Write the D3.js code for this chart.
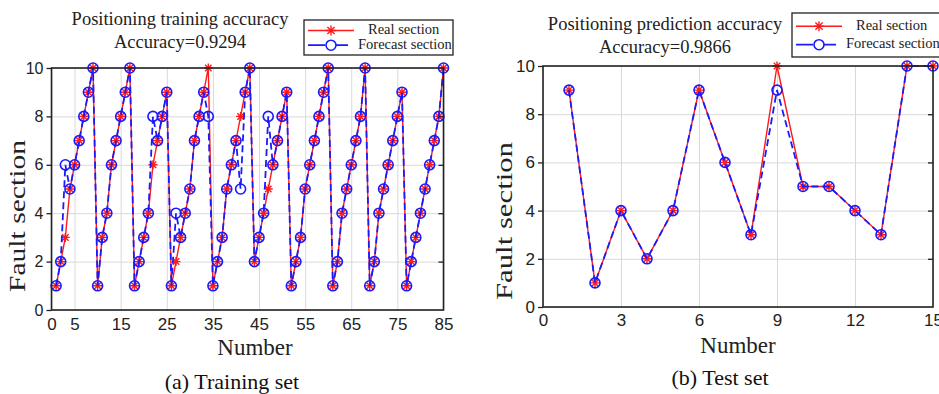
<!DOCTYPE html>
<html>
<head>
<meta charset="utf-8">
<script src="https://cdn.jsdelivr.net/npm/d3@7"></script>
<style>
  html, body { margin: 0; padding: 0; background: #fff; }
  svg { display: block; font-family: "Liberation Serif", "Times New Roman", serif; }
</style>
</head>
<body>
<div id="chart"></div>
<script>
// training set (85 samples)
const trainReal = [1, 2, 3, 5, 6, 7, 8, 9, 10, 1, 3, 4, 6, 7, 8, 9, 10, 1, 2, 3, 4, 6, 7, 8, 9,
  1, 2, 3, 4, 5, 7, 8, 9, 10, 1, 2, 3, 5, 6, 7, 8, 9, 10, 2, 3, 4, 5, 6, 7, 8, 9,
  1, 2, 3, 5, 6, 7, 8, 9, 10, 1, 2, 4, 5, 6, 7, 8, 10, 1, 2, 4, 5, 6, 7, 8, 9,
  1, 2, 3, 4, 5, 6, 7, 8, 10]
const trainForecast = [1, 2, 6, 5, 6, 7, 8, 9, 10, 1, 3, 4, 6, 7, 8, 9, 10, 1, 2, 3, 4, 8, 7, 8, 9,
  1, 4, 3, 4, 5, 7, 8, 9, 8, 1, 2, 3, 5, 6, 7, 5, 9, 10, 2, 3, 4, 8, 6, 7, 8, 9,
  1, 2, 3, 5, 6, 7, 8, 9, 10, 1, 2, 4, 5, 6, 7, 8, 10, 1, 2, 4, 5, 6, 7, 8, 9,
  1, 2, 3, 4, 5, 6, 7, 8, 10]
const trainTicks = [0, 5, 15, 25, 35, 45, 55, 65, 75, 85]

// test set (15 samples)
const testReal = [9, 1, 4, 2, 4, 9, 6, 3, 10, 5, 5, 4, 3, 10, 10]
const testForecast = [9, 1, 4, 2, 4, 9, 6, 3, 9, 5, 5, 4, 3, 10, 10]
const testTicks = [0, 3, 6, 9, 12, 15]

const yTicks = [0, 2, 4, 6, 8, 10]

const W = 939
const H = 394
const svg = d3.select('#chart').append('svg')
  .attr('width', W)
  .attr('height', H)

// matlab-ish '*' marker
function starPath (cx, cy, r) {
  const d = r * 0.72
  return `M${cx - r},${cy}L${cx + r},${cy}M${cx},${cy - r}L${cx},${cy + r}` +
    `M${cx - d},${cy - d}L${cx + d},${cy + d}M${cx - d},${cy + d}L${cx + d},${cy - d}`
}

function drawPanel (cfg) {
  const g = svg.append('g')
  const x = d3.scaleLinear().domain(cfg.xDomain).range(cfg.xRange)
  const y = d3.scaleLinear().domain([0, 10]).range(cfg.yRange)
  const [x0, x1] = cfg.xRange
  const [yb, yt] = cfg.yRange

  // grid
  g.append('g')
    .attr('transform', `translate(0,${yb})`)
    .call(d3.axisBottom(x).tickValues(cfg.xTicks).tickSize(-(yb - yt)).tickFormat(''))
    .call(a => a.select('.domain').remove())
    .selectAll('line').attr('stroke', '#d9d9d9').attr('stroke-width', 1)
  g.append('g')
    .attr('transform', `translate(${x0},0)`)
    .call(d3.axisLeft(y).tickValues(yTicks).tickSize(-(x1 - x0)).tickFormat(''))
    .call(a => a.select('.domain').remove())
    .selectAll('line').attr('stroke', '#d9d9d9').attr('stroke-width', 1)

  // real series
  const line = d3.line().x((d, i) => x(i + 1)).y(d => y(d))
  g.append('path')
    .datum(cfg.real)
    .attr('d', line)
    .attr('fill', 'none')
    .attr('stroke', '#ff1a1a')
    .attr('stroke-width', 1.4)
  g.append('g').selectAll('path')
    .data(cfg.real)
    .enter()
    .append('path')
    .attr('d', (d, i) => starPath(x(i + 1), y(d), 4.5))
    .attr('stroke', '#ff1a1a')
    .attr('stroke-width', 1.4)

  // forecast series
  g.append('path')
    .datum(cfg.forecast)
    .attr('d', line)
    .attr('fill', 'none')
    .attr('stroke', '#1a1aff')
    .attr('stroke-width', 1.8)
    .attr('stroke-dasharray', '7,4')
  g.append('g').selectAll('circle')
    .data(cfg.forecast)
    .enter()
    .append('circle')
    .attr('cx', (d, i) => x(i + 1))
    .attr('cy', d => y(d))
    .attr('r', 5)
    .attr('fill', 'none')
    .attr('stroke', '#1a1aff')
    .attr('stroke-width', 1.6)

  // axes
  const xAxis = g.append('g')
    .attr('transform', `translate(0,${yb})`)
    .call(d3.axisBottom(x).tickValues(cfg.xTicks).tickSize(0).tickPadding(cfg.xPad))
  xAxis.select('.domain').remove()
  xAxis.selectAll('text').attr('font-size', cfg.tickFont).attr('fill', '#222')

  const yAxis = g.append('g')
    .attr('transform', `translate(${x0},0)`)
    .call(d3.axisLeft(y).tickValues(yTicks).tickSize(5).tickPadding(3))
  yAxis.select('.domain').remove()
  yAxis.selectAll('line').attr('stroke', '#222').attr('stroke-width', 1.3)
  yAxis.selectAll('text').attr('font-size', cfg.yTickFont).attr('fill', '#222')

  // right side inner ticks
  g.append('g')
    .attr('transform', `translate(${x1},0)`)
    .call(d3.axisLeft(y).tickValues(yTicks.slice(1, 5)).tickSize(5).tickFormat(''))
    .call(a => a.select('.domain').remove())
    .selectAll('line').attr('stroke', '#222').attr('stroke-width', 1.3)

  // box
  g.append('rect')
    .attr('x', x0)
    .attr('y', yt)
    .attr('width', x1 - x0)
    .attr('height', yb - yt)
    .attr('fill', 'none')
    .attr('stroke', '#222')
    .attr('stroke-width', 1.6)

  // labels
  g.append('text')
    .attr('transform', `translate(${cfg.yLabel[0]},${cfg.yLabel[1]}) rotate(-90)`)
    .attr('text-anchor', 'middle')
    .attr('dominant-baseline', 'middle')
    .attr('font-size', 23)
    .attr('textLength', cfg.yLabelLen)
    .attr('lengthAdjust', 'spacingAndGlyphs')
    .attr('fill', '#222')
    .text('Fault section')
  g.append('text')
    .attr('x', cfg.xLabel[0])
    .attr('y', cfg.xLabel[1])
    .attr('text-anchor', 'middle')
    .attr('font-size', 23)
    .attr('fill', '#222')
    .text('Number')
  g.append('text')
    .attr('x', cfg.caption[0])
    .attr('y', cfg.caption[1])
    .attr('text-anchor', 'middle')
    .attr('font-size', 22)
    .attr('fill', '#111')
    .text(cfg.captionText)

  // titles
  g.append('text')
    .attr('x', cfg.title[0])
    .attr('y', cfg.title[1])
    .attr('text-anchor', 'middle')
    .attr('font-size', 18.5)
    .attr('fill', '#222')
    .text(cfg.titleText)
  g.append('text')
    .attr('x', cfg.title[0])
    .attr('y', cfg.title[1] + 23)
    .attr('text-anchor', 'middle')
    .attr('font-size', 18.5)
    .attr('fill', '#222')
    .text(cfg.accText)

  // legend
  const [lx, ly, lw, lh] = cfg.legend
  const lg = g.append('g')
  lg.append('rect')
    .attr('x', lx).attr('y', ly).attr('width', lw).attr('height', lh)
    .attr('fill', '#fff').attr('stroke', '#222').attr('stroke-width', 1.3)
  const r1 = ly + lh * 0.3
  const r2 = ly + lh * 0.72
  lg.append('line')
    .attr('x1', lx + 4).attr('x2', lx + 50).attr('y1', r1).attr('y2', r1)
    .attr('stroke', '#ff1a1a').attr('stroke-width', 1.4)
  lg.append('path')
    .attr('d', starPath(lx + 27, r1, 5))
    .attr('stroke', '#ff1a1a').attr('stroke-width', 1.4)
  lg.append('line')
    .attr('x1', lx + 4).attr('x2', lx + 50).attr('y1', r2).attr('y2', r2)
    .attr('stroke', '#1a1aff').attr('stroke-width', 1.8).attr('stroke-dasharray', '17,6')
  lg.append('circle')
    .attr('cx', lx + 27).attr('cy', r2).attr('r', 5)
    .attr('fill', '#fff').attr('stroke', '#1a1aff').attr('stroke-width', 1.6)
  lg.append('text')
    .attr('x', lx + 64).attr('y', r1).attr('dominant-baseline', 'middle')
    .attr('font-size', 14.5).attr('fill', '#222')
    .text('Real section')
  lg.append('text')
    .attr('x', lx + 54).attr('y', r2).attr('dominant-baseline', 'middle')
    .attr('font-size', 14.5).attr('fill', '#222')
    .text('Forecast section')
}

drawPanel({
  xDomain: [0, 85],
  xRange: [51.5, 443.5],
  yRange: [310, 68],
  xTicks: trainTicks,
  xPad: 8,
  tickFont: 17,
  yTickFont: 16,
  real: trainReal,
  forecast: trainForecast,
  yLabel: [20, 216],
  yLabelLen: 152,
  xLabel: [255, 355],
  caption: [232, 389],
  captionText: '(a) Training set',
  title: [180, 25],
  titleText: 'Positioning training accuracy',
  accText: 'Accuracy=0.9294',
  legend: [304, 20, 149, 35]
})

drawPanel({
  xDomain: [0, 15],
  xRange: [543, 933],
  yRange: [307, 66],
  xTicks: testTicks,
  xPad: 7,
  tickFont: 17,
  yTickFont: 17,
  real: testReal,
  forecast: testForecast,
  yLabel: [507, 221],
  yLabelLen: 158,
  xLabel: [738, 353],
  caption: [720, 385],
  captionText: '(b) Test set',
  title: [665, 30],
  titleText: 'Positioning prediction accuracy',
  accText: 'Accuracy=0.9866',
  legend: [792, 13, 155, 44]
})
</script>
</body>
</html>
